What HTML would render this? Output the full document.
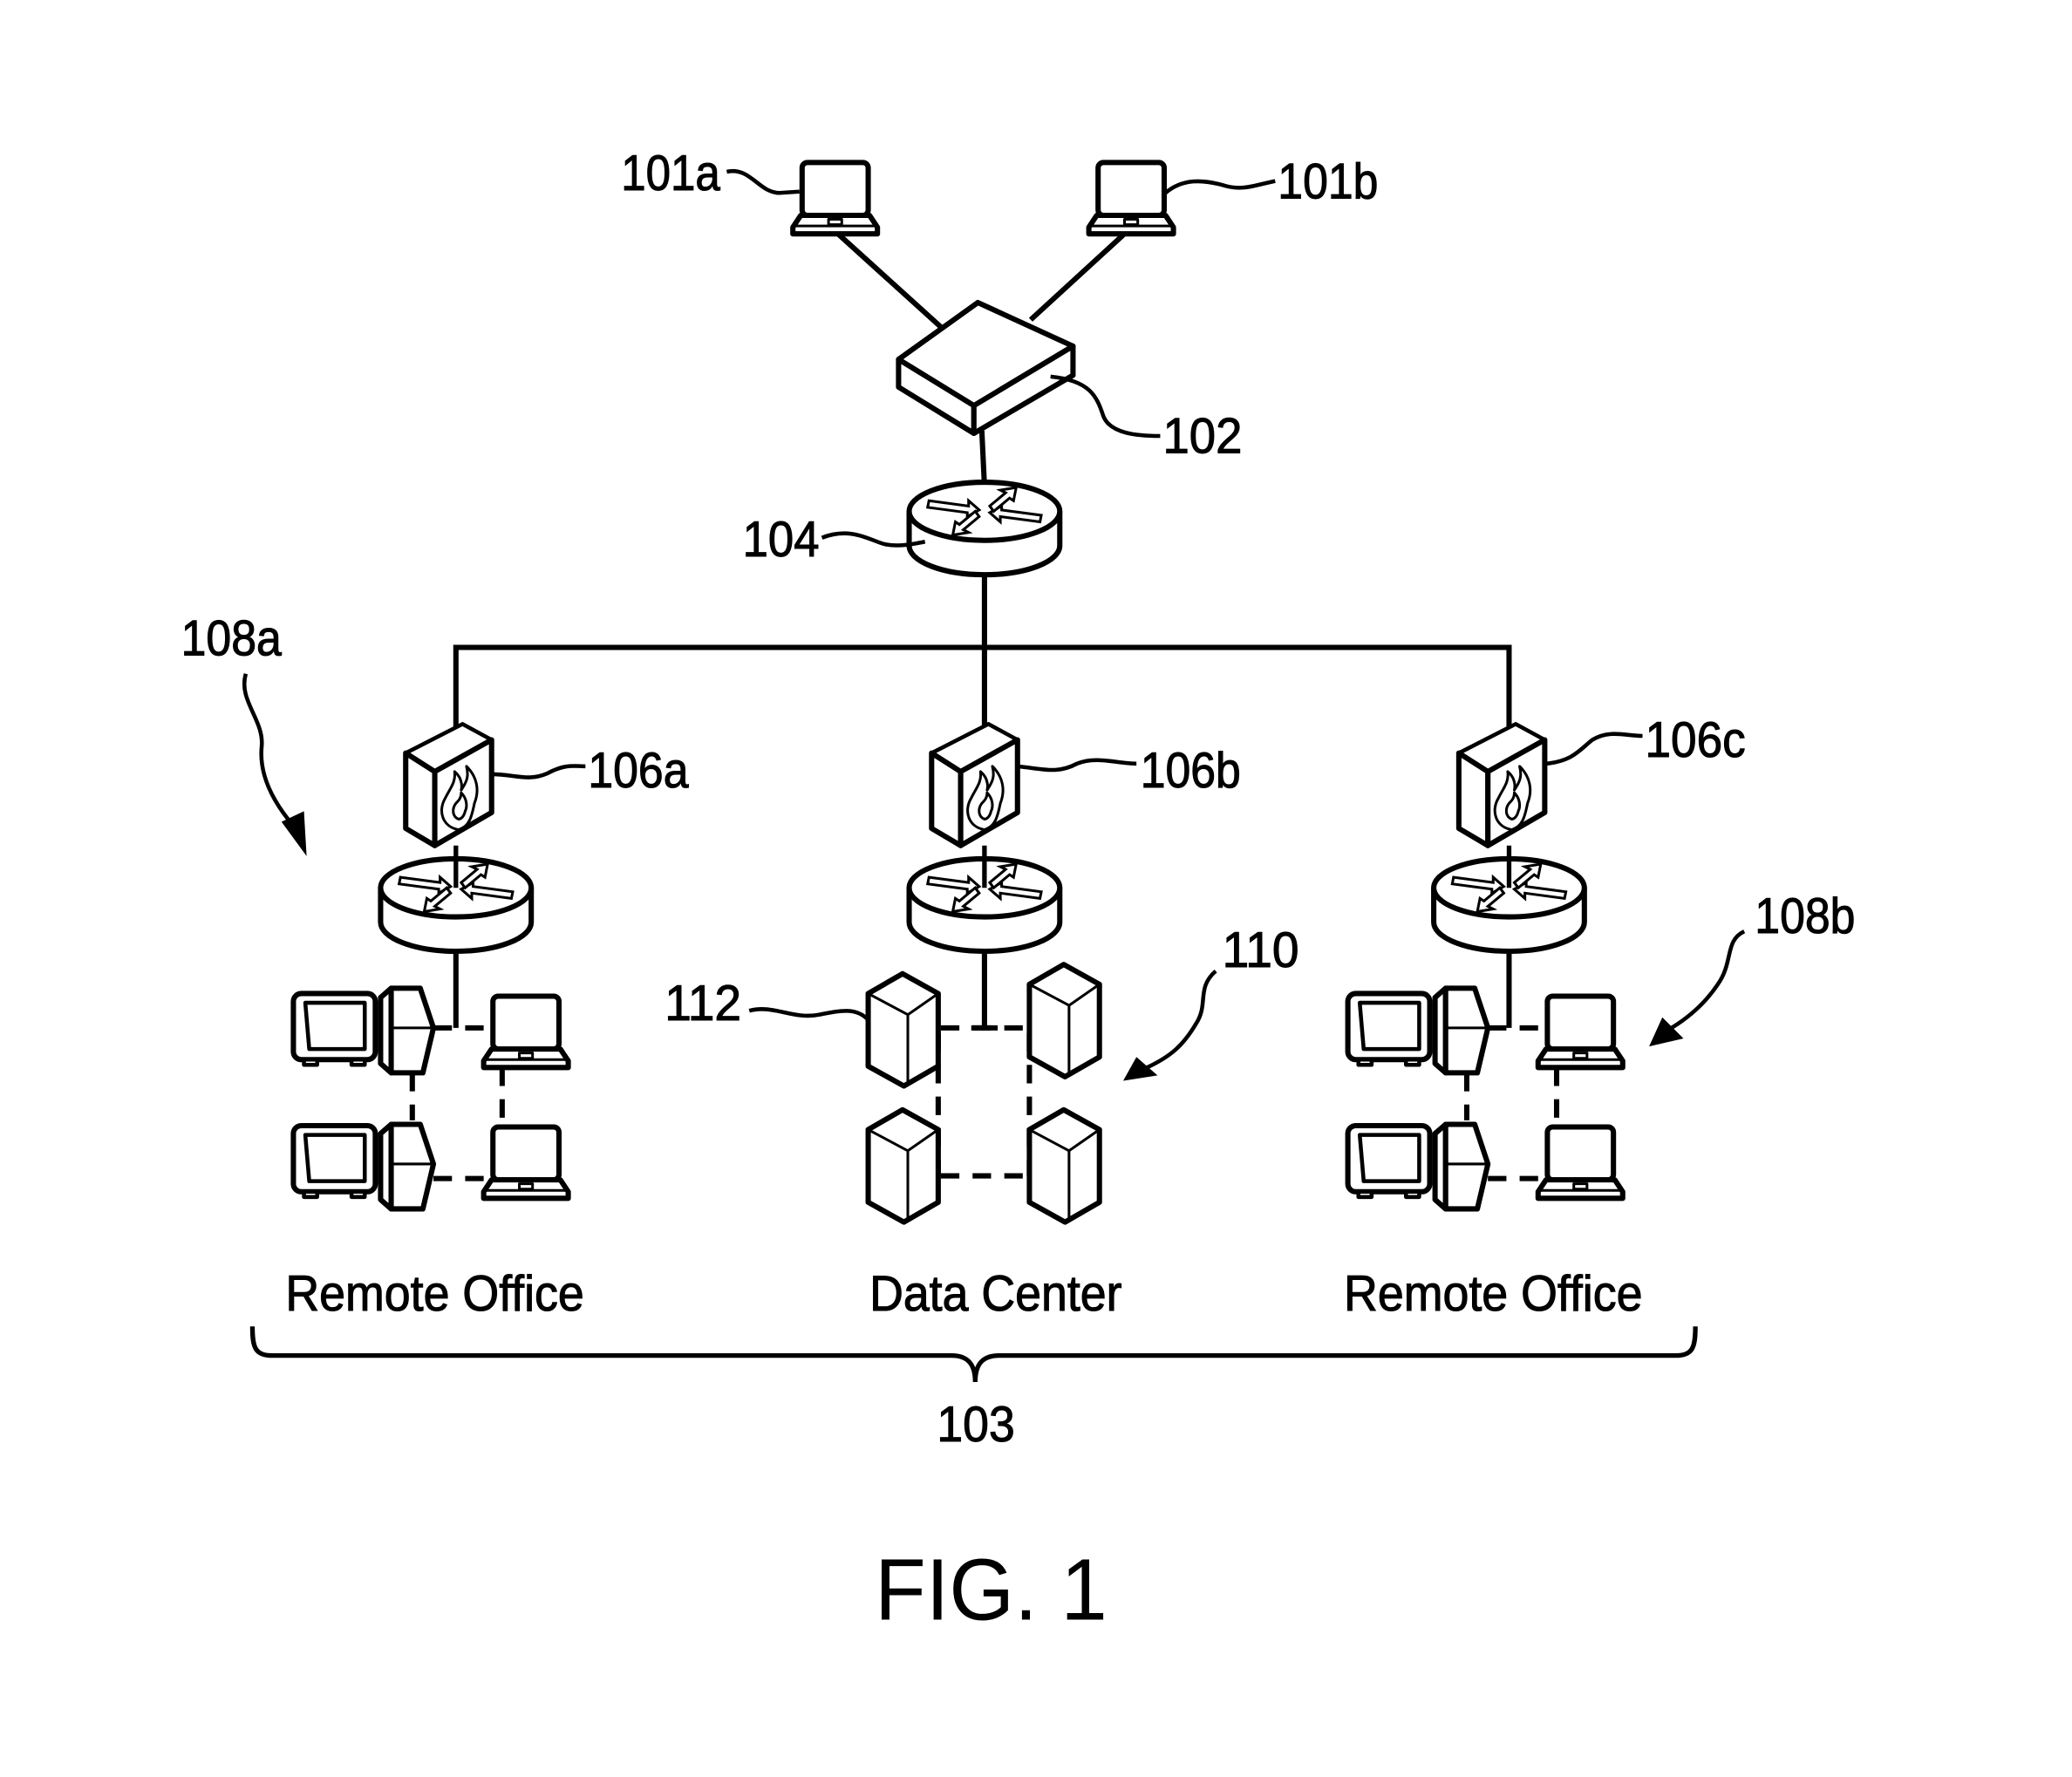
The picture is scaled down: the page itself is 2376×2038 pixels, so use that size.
<!DOCTYPE html>
<html><head><meta charset="utf-8"><style>
html,body{margin:0;padding:0;background:#fff}
svg{display:block}
text{font-family:"Liberation Sans",sans-serif;fill:#000}
</style></head><body>
<svg width="2376" height="2038" viewBox="0 0 1568 1345" xmlns="http://www.w3.org/2000/svg">
<defs>
<g id="lap" fill="#fff" stroke="#000" stroke-linejoin="round">
 <rect x="0" y="0" width="50" height="40" rx="4" stroke-width="4"/>
 <path d="M-1,40 L51,40 L57,49 L57,54 L-7,54 L-7,49 Z" stroke-width="4"/>
 <line x1="-6" y1="48" x2="56" y2="48" stroke-width="2"/>
 <rect x="20" y="43" width="10" height="4" stroke-width="2"/>
</g>
<g id="rtr" fill="#fff" stroke="#000">
 <path d="M-57,0 L-57,26 A57,22 0 0 0 57,26 L57,0" stroke-width="4"/>
 <ellipse cx="0" cy="0" rx="57" ry="22" stroke-width="4"/>
 <g stroke-width="2" fill="#fff">
  <path d="M-42,-8 L-12,-4 L-12,-8 L-4,-1 L-13,4 L-13,1 L-43,-3 Z"/>
  <path d="M42,8 L12,4 L12,8 L4,1 L13,-4 L13,-1 L43,3 Z"/>
  <path d="M-4,4 L-16,14 L-12,16 L-24,18 L-22,8 L-19,10 L-7,0 Z"/>
  <path d="M4,-4 L16,-14 L12,-16 L24,-18 L22,-8 L19,-10 L7,0 Z"/>
 </g>
</g>
<g id="fw" fill="#fff" stroke="#000" stroke-linejoin="round">
 <path d="M0,22 L43,0 L65,12 L22,36 Z" stroke-width="3"/>
 <path d="M0,22 L22,36 L22,92 L0,79 Z" stroke-width="4"/>
 <path d="M22,36 L65,12 L65,67 L22,92 Z" stroke-width="4"/>
 <path d="M40,80 C28,78 24,66 30,56 C34,48 38,44 37,36 C42,40 43,46 42,50 C46,44 48,40 46,32 C54,40 56,50 52,60 C50,70 48,78 40,80 Z" stroke-width="2" fill="none"/>
 <path d="M40,72 C35,70 35,64 38,60 C40,58 42,56 42,52 C46,56 47,62 45,66 C44,70 42,72 40,72 Z" stroke-width="2" fill="none"/>
</g>
<g id="mon" fill="#fff" stroke="#000" stroke-linejoin="round">
 <rect x="0" y="0" width="62" height="50" rx="6" stroke-width="4"/>
 <path d="M9,7 L54,7 L54,42 L12,42 Z" stroke-width="3"/>
 <rect x="8" y="50" width="10" height="4" stroke-width="3"/>
 <rect x="44" y="50" width="10" height="4" stroke-width="3"/>
</g>
<g id="tow" fill="#fff" stroke="#000" stroke-linejoin="round">
 <path d="M0,10 L8,3 L8,67 L0,60 Z" stroke-width="4"/>
 <path d="M8,3 L30,3 L40,33 L32,67 L8,67 Z" stroke-width="4"/>
 <line x1="8" y1="33" x2="40" y2="33" stroke-width="2"/>
</g>
<g id="srv" fill="#fff" stroke="#000" stroke-linejoin="round">
 <path d="M0,15 L26,0 L53,15 L53,70 L27,85 L0,70 Z" stroke-width="4"/>
 <path d="M0,15 L30,31 L53,15 M30,31 L30,85" stroke-width="2" fill="none"/>
</g>
</defs>

<g stroke="#000" stroke-width="4" fill="none" stroke-linecap="butt">
 <line x1="633" y1="176" x2="717" y2="252"/>
 <line x1="852" y1="176" x2="780" y2="242"/>
 <line x1="743" y1="326" x2="745" y2="368"/>
 <line x1="745" y1="432" x2="745" y2="552"/>
 <path d="M345,560 L345,490 L1142,490 L1142,552"/>
 <line x1="345" y1="722" x2="345" y2="778"/>
 <line x1="745" y1="722" x2="745" y2="778"/>
 <line x1="1142" y1="722" x2="1142" y2="778"/>
</g>

<use href="#lap" x="607" y="123"/>
<use href="#lap" x="831" y="123"/>

<g fill="#fff" stroke="#000" stroke-width="4" stroke-linejoin="round">
 <path d="M680,272 L740,229 L812,262 L737,307 Z"/>
 <path d="M680,272 L737,307 L737,328 L680,293 Z"/>
 <path d="M737,307 L812,262 L812,284 L737,328 Z"/>
</g>
<line x1="737" y1="307" x2="737" y2="328" stroke="#000" stroke-width="2"/>

<use href="#rtr" x="745" y="387"/>
<use href="#rtr" x="345" y="672"/>
<use href="#rtr" x="745" y="672"/>
<use href="#rtr" x="1142" y="672"/>
<g stroke="#000" stroke-width="3.5">
 <line x1="345" y1="640" x2="345" y2="672"/>
 <line x1="745" y1="640" x2="745" y2="672"/>
 <line x1="1142" y1="640" x2="1142" y2="672"/>
</g>

<use href="#fw" x="307" y="548"/>
<use href="#fw" x="705" y="548"/>
<use href="#fw" x="1104" y="548"/>

<g id="office">
 <g stroke="#000" stroke-width="4" stroke-dasharray="14,10">
  <line x1="328" y1="778" x2="372" y2="778"/>
  <line x1="328" y1="892" x2="372" y2="892"/>
  <line x1="312" y1="812" x2="312" y2="848"/>
  <line x1="380" y1="808" x2="380" y2="852"/>
 </g>
 <use href="#mon" x="222" y="752"/>
 <use href="#tow" x="288" y="745"/>
 <use href="#lap" x="373" y="754"/>
 <use href="#mon" x="222" y="852"/>
 <use href="#tow" x="288" y="848"/>
 <use href="#lap" x="373" y="853"/>
</g>
<use href="#office" x="798" y="0"/>

<g stroke="#000" stroke-width="4" stroke-dasharray="14,10">
 <line x1="712" y1="778" x2="779" y2="778"/>
 <line x1="712" y1="890" x2="779" y2="890"/>
 <line x1="710" y1="782" x2="710" y2="890"/>
 <line x1="779" y1="782" x2="779" y2="890"/>
</g>
<line x1="735" y1="778" x2="755" y2="778" stroke="#000" stroke-width="4"/>
<use href="#srv" x="657" y="737"/>
<use href="#srv" x="779" y="730"/>
<use href="#srv" x="657" y="840"/>
<use href="#srv" x="779" y="840"/>

<g stroke="#000" stroke-width="3" fill="none">
 <path d="M550,130 C568,126 574,146 590,146 L605,145"/>
 <path d="M882,146 C895,135 910,136 925,140 C940,145 950,140 965,137"/>
 <path d="M795,285 C825,288 830,300 835,315 C840,328 860,330 878,330"/>
 <path d="M622,407 C645,398 660,410 670,412 C680,414 690,412 700,410"/>
 <path d="M372,586 C390,586 400,592 415,585 C428,578 435,580 443,580"/>
 <path d="M770,580 C790,582 800,586 815,578 C830,572 845,578 860,578"/>
 <path d="M1170,578 C1190,576 1195,568 1205,560 C1218,552 1230,557 1243,557"/>
 <path d="M567,765 C585,760 600,772 620,768 C635,765 648,762 657,772"/>
 <path d="M186,510 C180,530 200,545 198,565 C196,585 205,605 222,625"/>
 <path d="M920,735 C905,748 915,760 905,775 C895,792 885,800 868,808"/>
 <path d="M1320,705 C1305,712 1312,728 1300,745 C1290,760 1278,770 1265,778"/>
</g>
<g fill="#000">
 <path d="M213,622 L232,648 L230,614 Z"/>
 <path d="M860,800 L850,818 L876,814 Z"/>
 <path d="M1258,770 L1248,792 L1274,786 Z"/>
</g>

<path d="M191,1004 C191,1020 193,1026 206,1026 L720,1026 C732,1026 738,1032 738,1046 C738,1032 744,1026 756,1026 L1268,1026 C1281,1026 1283,1020 1283,1004" fill="none" stroke="#000" stroke-width="3.5"/>

<g font-size="38" stroke="#000" stroke-width="0.7">
 <text x="470" y="144" textLength="75" lengthAdjust="spacingAndGlyphs">101a</text>
 <text x="967" y="150" textLength="76" lengthAdjust="spacingAndGlyphs">101b</text>
 <text x="880" y="343" textLength="60" lengthAdjust="spacingAndGlyphs">102</text>
 <text x="562" y="421" textLength="58" lengthAdjust="spacingAndGlyphs">104</text>
 <text x="137" y="496" textLength="76" lengthAdjust="spacingAndGlyphs">108a</text>
 <text x="445" y="596" textLength="76" lengthAdjust="spacingAndGlyphs">106a</text>
 <text x="863" y="596" textLength="76" lengthAdjust="spacingAndGlyphs">106b</text>
 <text x="1245" y="573" textLength="76" lengthAdjust="spacingAndGlyphs">106c</text>
 <text x="1328" y="706" textLength="76" lengthAdjust="spacingAndGlyphs">108b</text>
 <text x="925" y="732" textLength="58" lengthAdjust="spacingAndGlyphs">110</text>
 <text x="503" y="772" textLength="58" lengthAdjust="spacingAndGlyphs">112</text>
 <text x="216" y="992" textLength="226" lengthAdjust="spacingAndGlyphs">Remote  Office</text>
 <text x="658" y="992" textLength="191" lengthAdjust="spacingAndGlyphs">Data  Center</text>
 <text x="1017" y="992" textLength="226" lengthAdjust="spacingAndGlyphs">Remote  Office</text>
 <text x="709" y="1091" textLength="59" lengthAdjust="spacingAndGlyphs">103</text>
</g>
<text x="662" y="1226" font-size="66" textLength="176" lengthAdjust="spacingAndGlyphs">FIG. 1</text>
</svg>
</body></html>
